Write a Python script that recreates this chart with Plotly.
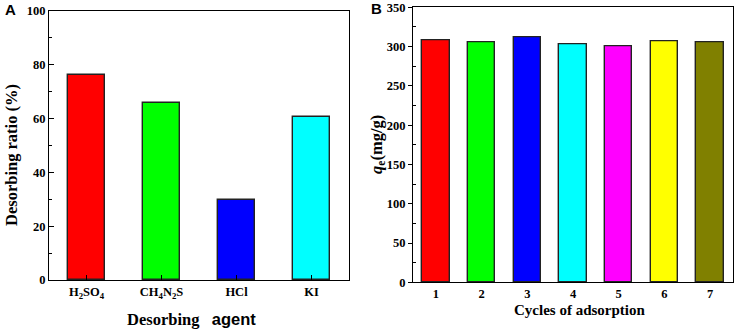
import plotly.graph_objects as go

# Panel A data
agents = ["H<sub>2</sub>SO<sub>4</sub>", "CH<sub>4</sub>N<sub>2</sub>S", "HCl", "KI"]
desorb_ratio = [76.3, 65.8, 29.8, 60.6]
colors_a = ["#FF0000", "#00FF00", "#0000FF", "#00FFFF"]

# Panel B data
cycles = [1, 2, 3, 4, 5, 6, 7]
qe = [308.4, 305.8, 311.8, 302.9, 299.9, 306.7, 305.8]
colors_b = ["#FF0000", "#00FF00", "#0000FF", "#00FFFF", "#FF00FF", "#FFFF00", "#808000"]

SERIF = "Liberation Serif, Times New Roman, serif"
SANS = "Liberation Sans, Arial, sans-serif"

fig = go.Figure()
fig.add_trace(go.Bar(x=list(range(len(agents))), y=desorb_ratio, marker=dict(color=colors_a, line=dict(color="#222", width=1.4)),
                     width=0.5, xaxis="x", yaxis="y", showlegend=False))
fig.add_trace(go.Bar(x=cycles, y=qe, marker=dict(color=colors_b, line=dict(color="#222", width=1.4)),
                     width=0.6, xaxis="x2", yaxis="y2", showlegend=False))

W, H = 737, 331
def px(x0, x1):
    return [x0 / W, x1 / W]
def py(ytop, ybot):
    return [(H - ybot) / H, (H - ytop) / H]

tickfont = dict(family=SERIF, size=12.5, color="black", weight="bold")
titlefont = dict(family=SERIF, size=16.5, color="black", weight="bold")
axcommon = dict(showline=True, linecolor="black", linewidth=1.2, mirror=True, showgrid=False, zeroline=False,
                tickfont=tickfont, tickcolor="black", automargin=False, layer="above traces")

fig.update_layout(
    width=W, height=H, margin=dict(l=0, r=0, t=0, b=0, pad=0),
    paper_bgcolor="white", plot_bgcolor="white",
    font=dict(family=SERIF, color="black", weight="bold"),
    bargap=0,
    xaxis=dict(domain=px(49, 349), range=[-0.5, 3.5], tickmode="array", tickvals=list(range(len(agents))),
               ticktext=agents, ticks="inside", ticklen=5,
               anchor="y", **axcommon),
    yaxis=dict(domain=py(11, 280), range=[0, 100], tickvals=[0, 20, 40, 60, 80, 100], ticks="inside", ticklen=5,
               minor=dict(tickvals=[10, 30, 50, 70, 90], ticks="inside", ticklen=3, tickcolor="black"),
               anchor="x", **axcommon),
    xaxis2=dict(domain=px(413, 733), range=[0.5, 7.5], tickvals=cycles, ticks="",
                anchor="y2", **axcommon),
    yaxis2=dict(domain=py(7.3, 282.3), range=[0, 350], tickvals=[0, 50, 100, 150, 200, 250, 300, 350],
                ticks="outside", ticklen=4,
                minor=dict(tickvals=[25, 75, 125, 175, 225, 275, 325], ticks="inside", ticklen=3, tickcolor="black"),
                anchor="x2", **axcommon),
    annotations=[
        dict(text="<b>A</b>", x=3 / W, y=1 - 10 / H, xref="paper", yref="paper", xanchor="left", yanchor="middle",
             showarrow=False, font=dict(family=SANS, size=15, color="black")),
        dict(text="<b>B</b>", x=369 / W, y=1 - 8 / H, xref="paper", yref="paper", xanchor="left", yanchor="middle",
             showarrow=False, font=dict(family=SANS, size=15, color="black")),
        # axis titles
        dict(text="Desorbing   <span style='font-family:Liberation Sans, Arial, sans-serif'>agent</span>",
             x=192 / W, y=1 - 319 / H, xref="paper", yref="paper", xanchor="center", yanchor="middle",
             showarrow=False, font=titlefont),
        dict(text="Desorbing ratio (%)", x=11 / W, y=1 - 155 / H, xref="paper", yref="paper", xanchor="center",
             yanchor="middle", textangle=-90, showarrow=False, font=titlefont),
        dict(text="Cycles of adsorption", x=579 / W, y=1 - 310 / H, xref="paper", yref="paper", xanchor="center",
             yanchor="middle", showarrow=False, font=dict(family=SERIF, size=15, color="black", weight="bold")),
        dict(text="<i>q</i><sub>e</sub>(mg/g)", x=377 / W, y=1 - 145 / H, xref="paper", yref="paper",
             xanchor="center", yanchor="middle", textangle=-90, showarrow=False, font=titlefont),
    ],
)

fig.write_html("out.html", config={"displayModeBar": False},
               post_script="document.body.style.margin='0';document.body.style.overflow='hidden';")
